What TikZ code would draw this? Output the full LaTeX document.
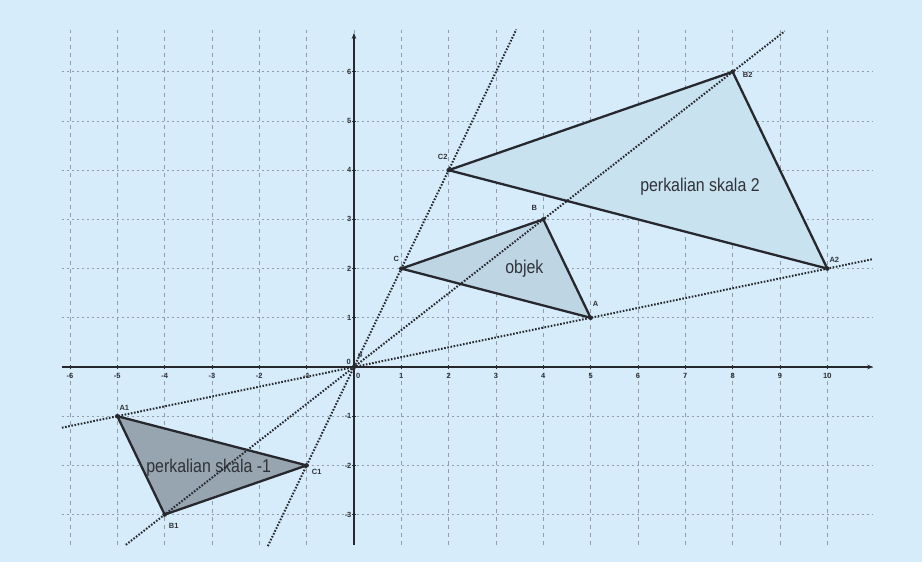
\documentclass[tikz,border=0pt]{standalone}
\usepackage{fontspec}
\setmainfont{Liberation Sans}
\usetikzlibrary{arrows.meta}
\definecolor{bg}{RGB}{214,236,250}
\definecolor{gridc}{RGB}{145,157,168}
\definecolor{edge}{RGB}{38,40,46}
\definecolor{fobj}{RGB}{190,214,228}
\definecolor{fdua}{RGB}{201,226,240}
\definecolor{fneg}{RGB}{150,165,176}
\definecolor{txt}{RGB}{48,50,56}
\tikzset{
  gridv/.style={gridc, line width=0.8pt, dash pattern=on 4pt off 4pt},
  gridh/.style={gridc, line width=0.9pt, dash pattern=on 2.5pt off 2.5pt},
  axisline/.style={edge, line width=1.7pt, -{Stealth[length=6pt,width=4.5pt]}},
  tri/.style={edge, line width=2.3pt, line join=round},
  dotline/.style={edge, line width=2pt, dash pattern=on 1.6pt off 1.6pt},
  ticklab/.style={txt, font=\fontsize{7.5}{7.5}\selectfont\bfseries, inner sep=0pt},
  ptlab/.style={txt, font=\fontsize{7.5}{7.5}\selectfont\bfseries, inner sep=0pt},
  biglab/.style={txt, font=\fontsize{18.5}{18.5}\selectfont, inner sep=0pt, xscale=0.86},
  vdot/.style={circle, fill=edge, inner sep=0pt, minimum size=4.5pt}
}
\begin{document}
\begin{tikzpicture}[x=47.33pt,y=49.2pt]
\fill[bg] (-7.479,-3.963) rectangle (12.001,7.459);
\useasboundingbox (-7.479,-3.963) rectangle (12.001,7.459);
% grid
\foreach \i in {-6,...,10} \draw[gridv] (\i,-3.62) -- (\i,6.85);
\foreach \j in {-3,...,6} \draw[gridh] (-6.17,\j) -- (10.97,\j);
% points
\coordinate (O) at (0,0);
\coordinate (A) at (5,1);
\coordinate (B) at (4,3);
\coordinate (C) at (1,2);
\coordinate (A2) at (10,2);
\coordinate (B2) at (8,6);
\coordinate (C2) at (2,4);
\coordinate (A1) at (-5,-1);
\coordinate (B1) at (-4,-3);
\coordinate (C1) at (-1,-2);
% fills
\fill[fdua] (A2) -- (B2) -- (C2) -- cycle;
\fill[fobj] (A) -- (B) -- (C) -- cycle;
\fill[fneg] (A1) -- (B1) -- (C1) -- cycle;
% big labels
\node[biglab] (lobj) at (3.6,2.0) {objek};
\node[biglab] (ldua) at (7.31,3.67) {perkalian skala 2};
\node[biglab] (lneg) at (-3.07,-2.05) {perkalian skala -1};
% dotted lines through origin
\coordinate (La) at (-6.17,-1.234);
\coordinate (Lb) at (10.97,2.194);
\coordinate (Lc) at (-4.82,-3.615);
\coordinate (Ld) at (9.1,6.825);
\coordinate (Le) at (-1.82,-3.64);
\coordinate (Lf) at (3.43,6.86);
\draw[dotline] (La) -- (Lb);
\draw[dotline] (Lc) -- (Ld);
\draw[dotline] (Le) -- (Lf);
% triangle edges
\draw[tri] (A) -- (B) -- (C) -- cycle;
\draw[tri] (A2) -- (B2) -- (C2) -- cycle;
\draw[tri] (A1) -- (B1) -- (C1) -- cycle;
% axes
\coordinate (xl) at (-6.17,0);
\coordinate (xr) at (10.97,0);
\coordinate (yb) at (0,-3.62);
\coordinate (yt) at (0,6.79);
\draw[axisline] (xl) -- (xr);
\draw[axisline] (yb) -- (yt);
\foreach \i in {-6,...,-1,1,2,...,10} {
  \draw[edge, line width=0.9pt] (\i,-0.045) -- (\i,0.045);
  \node[ticklab] at (\i,-0.185) {\i};
}
\foreach \j in {-3,...,-1,1,2,...,6} {
  \draw[edge, line width=0.9pt] (-0.045,\j) -- (0.045,\j);
  \node[ticklab, anchor=east] at (-0.05,\j) {\j};
}
\node[ticklab] (x0) at (0.09,-0.19) {0};
\node[ticklab] (y0) at (-0.11,0.1) {0};
\node[ptlab, font=\fontsize{6}{6}\selectfont\bfseries] (lo) at (0.13,0.24) {O};
% vertex dots
\foreach \p in {O,A,B,C,A2,B2,C2,A1,B1,C1} \node[vdot] at (\p) {};
% vertex labels
\node[ptlab, xshift=5pt, yshift=13.5pt] (tA) at (A) {A};
\node[ptlab, xshift=-9pt, yshift=11pt] (tB) at (B) {B};
\node[ptlab, xshift=-5pt, yshift=10pt] (tC) at (C) {C};
\node[ptlab, xshift=7pt, yshift=9pt] (tA2) at (A2) {A2};
\node[ptlab, xshift=15pt, yshift=-3pt] (tB2) at (B2) {B2};
\node[ptlab, xshift=-6pt, yshift=13pt] (tC2) at (C2) {C2};
\node[ptlab, xshift=7pt, yshift=8pt] (tA1) at (A1) {A1};
\node[ptlab, xshift=9pt, yshift=-11pt] (tB1) at (B1) {B1};
\node[ptlab, xshift=10pt, yshift=-7pt] (tC1) at (C1) {C1};
\end{tikzpicture}
\end{document}
